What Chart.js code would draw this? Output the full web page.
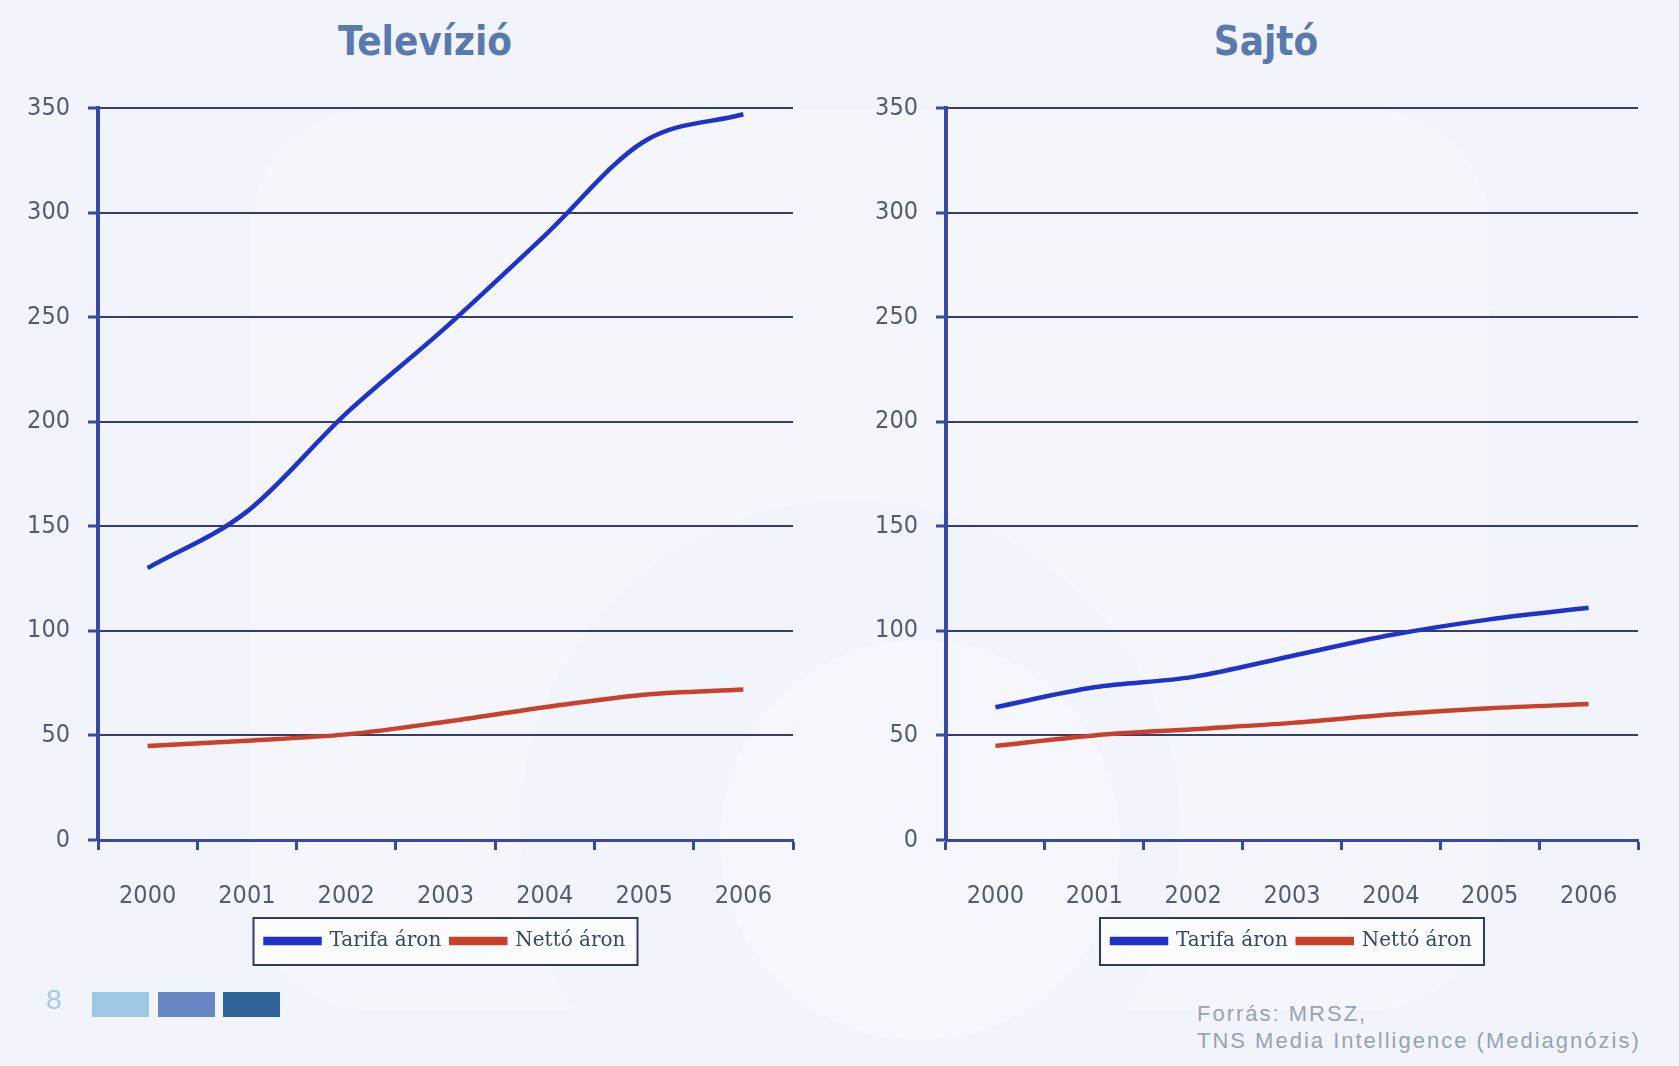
<!DOCTYPE html>
<html>
<head>
<meta charset="utf-8">
<script src="https://cdn.jsdelivr.net/npm/chart.js@4/dist/chart.umd.min.js"></script>
<style>
	html, body {
		margin: 0;
		padding: 0;
	}
	body {
		width: 1679px;
		height: 1066px;
		background: #f1f4fa;
		position: relative;
		overflow: hidden;
		font-family: "Liberation Sans", sans-serif;
	}
	.ring {
		position: absolute;
		border-radius: 50%;
		background: #f5f7fc;
	}
	.panel {
		position: absolute;
		top: 75px;
		width: 820px;
		height: 906px;
	}
	.title {
		position: absolute;
		top: 18px;
		font-family: "DejaVu Sans Condensed", sans-serif;
		font-weight: bold;
		font-size: 40px;
		color: #5a79ad;
		text-align: center;
		width: 400px;
	}
	.page-no {
		position: absolute;
		left: 46px;
		top: 984px;
		font-size: 28px;
		color: #a9c9e2;
	}
	.sq {
		position: absolute;
		top: 992px;
		width: 57px;
		height: 25px;
	}
	.source {
		position: absolute;
		left: 1197px;
		top: 1000px;
		font-size: 22px;
		line-height: 27px;
		letter-spacing: 2px;
		color: #98a2b4;
		white-space: nowrap;
	}
</style>
</head>
<body>
<div class="ring" style="left:250px;top:110px;width:1240px;height:900px;border-radius:120px;background:#f4f6fb"></div>
<div class="ring" style="left:520px;top:500px;width:660px;height:660px;background:#f1f4fa"></div>
<div class="ring" style="left:720px;top:640px;width:400px;height:400px;background:#f5f7fc"></div>

<div class="title" style="left:225px">Televízió</div>
<div class="title" style="left:1066px">Sajtó</div>

<div class="panel" style="left:0px"><canvas id="tvChart"></canvas></div>
<div class="panel" style="left:848px"><canvas id="pressChart"></canvas></div>

<div class="page-no">8</div>
<div class="sq" style="left:92px;background:#9cc8e6"></div>
<div class="sq" style="left:158px;background:#6886c4"></div>
<div class="sq" style="left:223px;background:#2e6498"></div>

<div class="source">Forrás: MRSZ,<br>TNS Media Intelligence (Mediagnózis)</div>

<script>
const years = ["2000", "2001", "2002", "2003", "2004", "2005", "2006"];

const tvTarifa = [130, 157, 204, 245, 289, 334, 347];
const tvNetto = [45, 47.5, 50.5, 56.5, 63.5, 69.5, 72];

const pressTarifa = [63.5, 73, 78, 88, 98, 105.5, 111];
const pressNetto = [45, 50, 53, 56, 60, 63, 65];

const seriesNames = ["Tarifa áron", "Nettó áron"];

const blue = "#1f33c9";
const red = "#c9412b";
const axisColor = "#3a48a0";
const gridColor = "#353d6e";
const tickFont = { family: "'DejaVu Sans Condensed', sans-serif", size: 25 };
const tickColor = "#555c72";

// draws the framed box round the legend, like the original
const legendFrame = {
	id: "legendFrame",
	beforeDraw(chart) {
		const boxes = chart.legend.legendHitBoxes;
		if (!boxes || !boxes.length) return;
		const first = boxes[0];
		const last = boxes[boxes.length - 1];
		const ctx = chart.ctx;
		const x1 = first.left - 12;
		const x2 = last.left + last.width + 12;
		const y1 = first.top - 13;
		const y2 = first.top + first.height + 14;
		ctx.save();
		ctx.fillStyle = "#fbfcfe";
		ctx.fillRect(x1, y1, x2 - x1, y2 - y1);
		ctx.strokeStyle = "#2f3869";
		ctx.lineWidth = 2;
		ctx.strokeRect(x1, y1, x2 - x1, y2 - y1);
		ctx.restore();
	},
};

function makeOptions(rightPad) {
	return {
		responsive: true,
		maintainAspectRatio: false,
		animation: false,
		layout: {
			padding: { top: 0, right: rightPad, left: 0, bottom: 20 },
		},
		elements: {
			point: { radius: 0 },
			line: { tension: 0.4, borderWidth: 4.5, cubicInterpolationMode: "monotone" },
		},
		plugins: {
			title: { display: false },
			tooltip: { enabled: false },
			legend: {
				position: "bottom",
				fullSize: false,
				labels: {
					boxWidth: 54,
					boxHeight: 4,
					padding: 10,
					color: "#3a4666",
					font: { family: "'DejaVu Serif', serif", size: 20 },
				},
			},
		},
		scales: {
			x: {
				offset: true,
				afterFit(scale) {
					scale.height = 81;
				},
				grid: {
					offset: true,
					drawOnChartArea: false,
					drawTicks: true,
					tickLength: 10,
					tickWidth: 3,
					tickColor: axisColor,
				},
				border: { color: axisColor, width: 3 },
				ticks: {
					color: tickColor,
					font: tickFont,
					padding: 31,
					maxRotation: 0,
				},
			},
			y: {
				min: 0,
				max: 350,
				afterFit(scale) {
					scale.width = 98;
				},
				grid: {
					color: gridColor,
					lineWidth: 2,
					tickLength: 10,
					tickColor: axisColor,
					tickWidth: 3,
				},
				border: { color: axisColor, width: 4 },
				ticks: {
					stepSize: 50,
					color: tickColor,
					font: tickFont,
					padding: 18,
				},
			},
		},
	};
}

function makeData(tarifa, netto) {
	return {
		labels: years,
		datasets: [
			{
				label: seriesNames[0],
				data: tarifa,
				borderColor: blue,
				backgroundColor: blue,
			},
			{
				label: seriesNames[1],
				data: netto,
				borderColor: red,
				backgroundColor: red,
			},
		],
	};
}

new Chart(document.getElementById("tvChart"), {
	type: "line",
	data: makeData(tvTarifa, tvNetto),
	options: makeOptions(27),
	plugins: [legendFrame],
});

new Chart(document.getElementById("pressChart"), {
	type: "line",
	data: makeData(pressTarifa, pressNetto),
	options: makeOptions(30),
	plugins: [legendFrame],
});
</script>
</body>
</html>
